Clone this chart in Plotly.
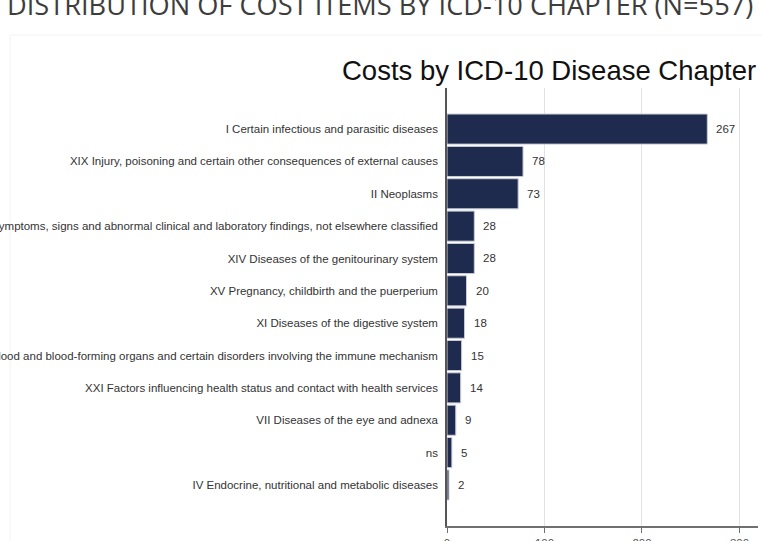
import plotly.graph_objects as go

page_heading = "DISTRIBUTION OF COST ITEMS BY ICD-10 CHAPTER (N=557)"
chart_title = "Costs by ICD-10 Disease Chapter"

categories = [
    "I Certain infectious and parasitic diseases",
    "XIX Injury, poisoning and certain other consequences of external causes",
    "II Neoplasms",
    "XVIII Symptoms, signs and abnormal clinical and laboratory findings, not elsewhere classified",
    "XIV Diseases of the genitourinary system",
    "XV Pregnancy, childbirth and the puerperium",
    "XI Diseases of the digestive system",
    "III Diseases of the blood and blood-forming organs and certain disorders involving the immune mechanism",
    "XXI Factors influencing health status and contact with health services",
    "VII Diseases of the eye and adnexa",
    "ns",
    "IV Endocrine, nutritional and metabolic diseases",
]
counts = [267, 78, 73, 28, 28, 20, 18, 15, 14, 9, 5, 2]
x_ticks = [0, 100, 200, 300]

W, H = 762, 541
L, R, T, B = 447, 4, 88, 15
pw, ph = W - L - R, H - T - B


def px_x(p):
    return (p - L) / pw


def px_y(p):
    return (H - B - p) / ph


fig = go.Figure()
fig.add_trace(go.Bar(
    x=counts, y=categories, orientation="h",
    marker=dict(color="#1e2a4e", line=dict(color="#c9ccd6", width=1)),
    hoverinfo="x+y",
))

annotations = []
for c, v in zip(categories, counts):
    annotations.append(dict(
        x=v, y=c, xref="x", yref="y", text=str(v), showarrow=False,
        xanchor="left", xshift=7,
        font=dict(family="Liberation Sans, Arial", size=11.5, color="#333333"),
    ))

annotations.append(dict(
    x=px_x(549), y=px_y(70), xref="paper", yref="paper", text=chart_title,
    showarrow=False, xanchor="center", yanchor="middle",
    font=dict(family="Liberation Sans, Arial", size=27.5, color="#111111"),
))
annotations.append(dict(
    x=px_x(5), y=px_y(5), xref="paper", yref="paper", text=page_heading,
    showarrow=False, xanchor="left", yanchor="middle",
    font=dict(family="Open Sans", size=27.2, color="#3d3d3d"),
))

n = len(categories)
fig.update_layout(
    width=W, height=H,
    margin=dict(l=L, r=R, t=T, b=B, autoexpand=False),
    paper_bgcolor="white", plot_bgcolor="white",
    showlegend=False,
    bargap=0.07,
    annotations=annotations,
    shapes=[
        dict(type="line", xref="paper", yref="paper",
             x0=px_x(10), x1=px_x(770), y0=px_y(35), y1=px_y(35),
             line=dict(color="#f2f2f2", width=1), layer="below"),
        dict(type="line", xref="paper", yref="paper",
             x0=px_x(10), x1=px_x(10), y0=px_y(35), y1=px_y(560),
             line=dict(color="#f2f2f2", width=1), layer="below"),
    ],
    xaxis=dict(
        range=[0, 319], tickvals=x_ticks, ticktext=[str(t) for t in x_ticks],
        showgrid=True, gridcolor="#e2e2e2", gridwidth=1,
        zeroline=False, showline=True, linecolor="#707070", linewidth=1.5,
        ticks="outside", ticklen=5, tickcolor="#707070",
        tickfont=dict(family="Liberation Sans, Arial", size=11.5, color="#555555"),
        automargin=False, fixedrange=True,
    ),
    yaxis=dict(
        type="category", categoryorder="array", categoryarray=categories,
        range=[n - 1 + 1.27, -1.27],
        showgrid=False, zeroline=False, showline=True,
        linecolor="#555555", linewidth=1.5, ticks="", ticklabelstandoff=5,
        tickfont=dict(family="Liberation Sans, Arial", size=11.5, color="#333333"),
        automargin=False, fixedrange=True,
    ),
)

fig.write_html(
    "out.html",
    config={"displayModeBar": False},
    post_script="document.body.style.margin='0';document.body.style.overflow='hidden';",
)
